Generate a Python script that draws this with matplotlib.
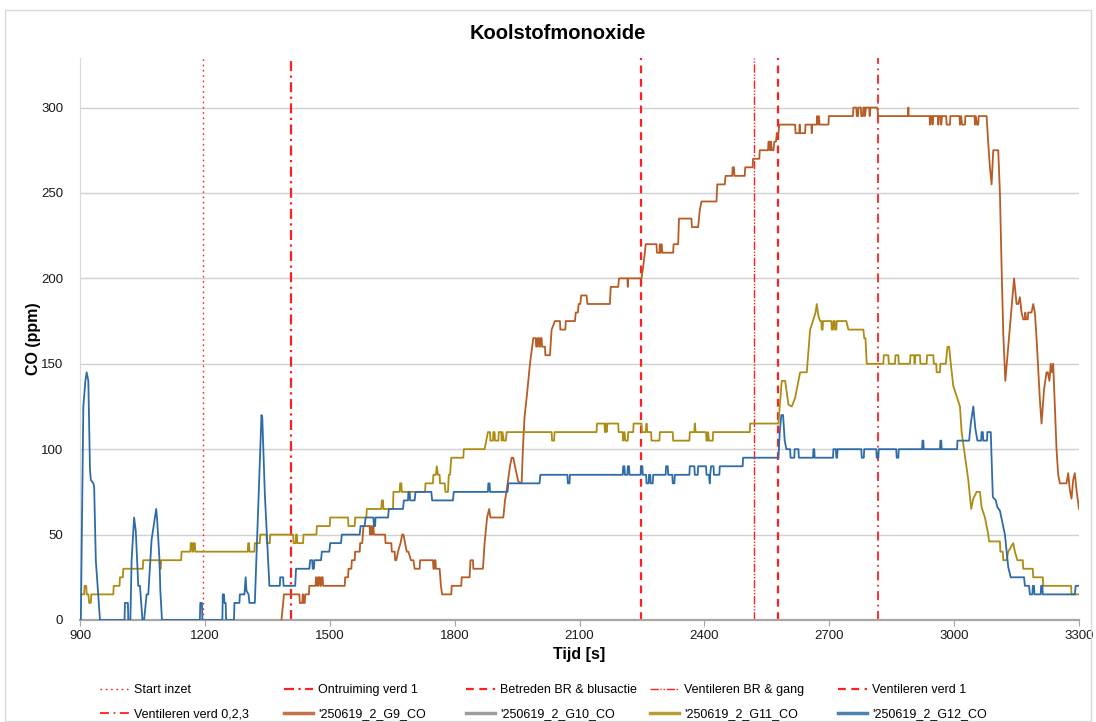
import matplotlib
matplotlib.use("Agg")
import matplotlib.pyplot as plt
from matplotlib.patches import Rectangle
from matplotlib.lines import Line2D

plt.rcParams['font.family'] = ['Liberation Sans', 'DejaVu Sans']

# ---------------- data ----------------
title = "Koolstofmonoxide"
x_label = "Tijd [s]"
y_label = "CO (ppm)"
x_ticks = [900, 1200, 1500, 1800, 2100, 2400, 2700, 3000, 3300]
y_ticks = [0, 50, 100, 150, 200, 250, 300]

event_labels = ["Start inzet", "Ontruiming verd 1", "Betreden BR & blusactie",
                "Ventileren BR & gang", "Ventileren verd 1", "Ventileren verd 0,2,3"]
event_times = [1195, 1407, 2248, 2519, 2577, 2817]

series_labels = ["'250619_2_G9_CO", "'250619_2_G10_CO", "'250619_2_G11_CO", "'250619_2_G12_CO"]

g9 = [(1384, 0), (1390, 15), (1427, 15), (1428, 10), (1434, 10), (1435, 15), (1436, 15), (1437, 10),
      (1440, 10), (1441, 15), (1450, 15), (1451, 20), (1466, 20), (1467, 25), (1469, 25), (1470, 20),
      (1472, 20), (1473, 25), (1476, 25), (1477, 20), (1479, 20), (1480, 25), (1483, 25), (1484, 20),
      (1536, 20), (1537, 25), (1544, 25), (1545, 30), (1552, 30), (1553, 35), (1560, 35), (1561, 40),
      (1572, 40), (1573, 45), (1578, 45), (1581, 55), (1596, 55), (1597, 50), (1599, 55), (1601, 50),
      (1603, 55), (1605, 55), (1606, 50), (1633, 50), (1634, 45), (1648, 45), (1649, 40), (1656, 40),
      (1657, 35), (1660, 35), (1664, 40), (1670, 45), (1674, 50), (1677, 50), (1681, 45), (1685, 40),
      (1689, 40), (1695, 35), (1701, 35), (1704, 30), (1716, 30), (1717, 35), (1748, 35), (1749, 30),
      (1751, 30), (1752, 35), (1754, 35), (1755, 30), (1764, 30), (1767, 20), (1770, 15), (1792, 15),
      (1793, 20), (1816, 20), (1817, 25), (1836, 25), (1838, 35), (1844, 35), (1845, 30), (1868, 30),
      (1872, 45), (1878, 60), (1883, 65), (1886, 60), (1917, 60), (1921, 70), (1925, 76), (1933, 90),
      (1937, 95), (1941, 95), (1945, 90), (1953, 81), (1961, 80), (1964, 100), (1968, 119), (1973, 130),
      (1981, 150), (1989, 165), (1995, 165), (1996, 160), (1998, 160), (1999, 165), (2002, 165),
      (2003, 160), (2005, 160), (2006, 165), (2009, 165), (2010, 160), (2017, 160), (2018, 155),
      (2029, 155), (2033, 170), (2041, 175), (2053, 175), (2054, 170), (2066, 170), (2067, 175),
      (2089, 175), (2091, 180), (2096, 180), (2098, 185), (2102, 185), (2104, 190), (2117, 190),
      (2119, 185), (2173, 185), (2175, 195), (2193, 195), (2195, 200), (2215, 200), (2216, 195),
      (2217, 200), (2249, 200), (2252, 205), (2257, 215), (2259, 220), (2285, 220), (2286, 215),
      (2292, 215), (2293, 220), (2295, 215), (2297, 220), (2299, 215), (2325, 215), (2326, 220),
      (2337, 220), (2339, 235), (2369, 235), (2370, 230), (2385, 230), (2389, 240), (2393, 245),
      (2429, 245), (2431, 255), (2449, 255), (2451, 260), (2467, 260), (2468, 265), (2471, 265),
      (2472, 260), (2497, 260), (2498, 265), (2516, 265), (2517, 270), (2532, 270), (2533, 275),
      (2553, 275), (2554, 280), (2557, 280), (2558, 275), (2560, 280), (2562, 275), (2566, 275),
      (2568, 280), (2572, 280), (2574, 285), (2578, 285), (2580, 290), (2618, 290), (2619, 285),
      (2628, 285), (2629, 290), (2630, 285), (2642, 285), (2643, 290), (2657, 290), (2658, 285),
      (2659, 290), (2670, 290), (2671, 295), (2673, 290), (2675, 295), (2677, 290), (2698, 290),
      (2699, 295), (2757, 295), (2758, 300), (2765, 300), (2766, 295), (2769, 295), (2770, 300),
      (2776, 300), (2777, 295), (2781, 295), (2782, 300), (2785, 300), (2786, 295), (2788, 300),
      (2796, 300), (2797, 295), (2799, 300), (2815, 300), (2818, 295), (2889, 295), (2890, 300),
      (2891, 295), (2941, 295), (2942, 290), (2944, 295), (2947, 295), (2948, 290), (2950, 295),
      (2961, 295), (2962, 290), (2964, 295), (2968, 295), (2969, 290), (2971, 295), (2981, 295),
      (2982, 290), (2990, 290), (2991, 295), (3013, 295), (3014, 290), (3017, 295), (3019, 290),
      (3026, 290), (3027, 295), (3049, 295), (3050, 290), (3052, 295), (3055, 290), (3058, 290),
      (3059, 295), (3078, 295), (3082, 279), (3086, 265), (3090, 255), (3094, 275), (3106, 275),
      (3110, 250), (3114, 207), (3118, 168), (3123, 140), (3130, 160), (3137, 180), (3144, 200),
      (3150, 185), (3154, 185), (3158, 189), (3162, 180), (3166, 176), (3170, 176), (3171, 180),
      (3173, 176), (3177, 176), (3178, 180), (3186, 180), (3190, 185), (3194, 180), (3198, 165),
      (3206, 129), (3210, 115), (3216, 135), (3222, 145), (3225, 145), (3229, 140), (3232, 150),
      (3235, 145), (3238, 150), (3246, 100), (3250, 85), (3254, 80), (3270, 80), (3274, 86),
      (3278, 76), (3282, 71), (3286, 82), (3290, 86), (3294, 76), (3300, 65)]

g10 = []

g11 = [(900, 15), (910, 15), (911, 20), (915, 20), (916, 15), (920, 15), (922, 10), (926, 10),
       (927, 15), (980, 15), (981, 20), (995, 20), (996, 25), (1003, 25), (1004, 30), (1051, 30),
       (1052, 35), (1091, 35), (1092, 30), (1094, 30), (1095, 35), (1143, 35), (1144, 40), (1165, 40),
       (1166, 45), (1169, 45), (1170, 40), (1172, 40), (1173, 45), (1176, 45), (1177, 40), (1303, 40),
       (1304, 45), (1306, 45), (1307, 40), (1319, 40), (1320, 45), (1332, 45), (1333, 50), (1348, 50),
       (1349, 45), (1356, 45), (1357, 50), (1412, 50), (1413, 45), (1418, 45), (1419, 50), (1421, 50),
       (1422, 45), (1436, 45), (1437, 50), (1468, 50), (1469, 55), (1500, 55), (1501, 60), (1544, 60),
       (1545, 55), (1560, 55), (1561, 60), (1588, 60), (1589, 65), (1624, 65), (1625, 70), (1628, 70),
       (1629, 65), (1652, 65), (1653, 75), (1668, 75), (1669, 80), (1672, 80), (1673, 75), (1729, 75),
       (1730, 80), (1748, 80), (1749, 85), (1755, 85), (1757, 90), (1760, 85), (1764, 85), (1765, 80),
       (1776, 80), (1778, 75), (1784, 75), (1786, 85), (1789, 85), (1792, 95), (1821, 95), (1822, 100),
       (1872, 100), (1876, 105), (1880, 110), (1885, 110), (1886, 105), (1892, 105), (1893, 110),
       (1896, 110), (1897, 105), (1905, 105), (1906, 110), (1912, 110), (1913, 105), (1915, 110),
       (1918, 105), (1923, 105), (1925, 110), (2033, 110), (2034, 105), (2039, 105), (2040, 110),
       (2141, 110), (2142, 115), (2160, 115), (2161, 110), (2163, 115), (2165, 110), (2167, 115),
       (2193, 115), (2194, 110), (2204, 110), (2205, 105), (2208, 110), (2210, 105), (2216, 105),
       (2217, 110), (2229, 110), (2230, 115), (2249, 115), (2250, 110), (2259, 110), (2261, 115),
       (2263, 110), (2272, 110), (2273, 105), (2292, 105), (2293, 110), (2324, 110), (2325, 105),
       (2364, 105), (2365, 110), (2376, 110), (2377, 115), (2379, 110), (2404, 110), (2405, 105),
       (2408, 105), (2409, 110), (2411, 105), (2420, 105), (2421, 110), (2509, 110), (2510, 115),
       (2578, 115), (2581, 125), (2586, 140), (2594, 140), (2602, 126), (2610, 125), (2618, 130),
       (2630, 145), (2646, 145), (2654, 170), (2662, 176), (2667, 180), (2670, 185), (2674, 178),
       (2678, 175), (2681, 175), (2682, 170), (2684, 170), (2685, 175), (2705, 175), (2706, 170),
       (2709, 170), (2710, 175), (2713, 175), (2714, 170), (2717, 170), (2718, 175), (2741, 175),
       (2746, 170), (2782, 170), (2784, 165), (2787, 165), (2790, 150), (2830, 150), (2831, 155),
       (2842, 155), (2843, 150), (2858, 150), (2859, 155), (2866, 155), (2867, 150), (2894, 150),
       (2895, 155), (2904, 155), (2905, 150), (2907, 155), (2918, 155), (2919, 150), (2934, 150),
       (2935, 155), (2950, 155), (2951, 150), (2957, 150), (2958, 145), (2966, 145), (2967, 150),
       (2980, 150), (2984, 160), (2988, 160), (2992, 150), (2998, 137), (3006, 131), (3014, 125),
       (3018, 110), (3026, 96), (3034, 82), (3041, 65), (3046, 71), (3054, 75), (3062, 75),
       (3066, 66), (3074, 60), (3082, 50), (3084, 46), (3110, 46), (3111, 40), (3117, 40),
       (3118, 35), (3126, 35), (3130, 40), (3142, 45), (3146, 40), (3152, 35), (3165, 35),
       (3166, 30), (3189, 30), (3190, 25), (3213, 25), (3214, 20), (3281, 20), (3282, 15), (3300, 15)]

g12 = [(900, 0), (902, 0), (908, 125), (913, 140), (916, 145), (920, 140), (924, 88), (926, 82),
       (932, 80), (934, 78), (938, 35), (948, 0), (1007, 0), (1008, 10), (1015, 10), (1016, 0),
       (1021, 0), (1024, 35), (1030, 60), (1034, 52), (1040, 20), (1044, 20), (1050, 0), (1054, 0),
       (1060, 15), (1064, 15), (1072, 47), (1083, 65), (1085, 60), (1091, 35), (1093, 17), (1097, 0),
       (1188, 0), (1189, 10), (1193, 10), (1194, 0), (1242, 0), (1243, 15), (1246, 15), (1247, 10),
       (1250, 10), (1251, 0), (1270, 0), (1271, 10), (1283, 10), (1284, 15), (1295, 15), (1298, 25),
       (1300, 17), (1305, 15), (1307, 10), (1320, 10), (1336, 120), (1338, 118), (1344, 74),
       (1355, 20), (1380, 20), (1381, 25), (1388, 25), (1389, 20), (1417, 20), (1419, 30), (1451, 30),
       (1453, 35), (1458, 35), (1459, 30), (1462, 30), (1463, 35), (1479, 35), (1481, 40), (1499, 40),
       (1501, 45), (1527, 45), (1529, 50), (1572, 50), (1574, 55), (1584, 55), (1586, 60), (1605, 60),
       (1606, 55), (1609, 55), (1610, 60), (1640, 60), (1642, 65), (1676, 65), (1678, 70), (1688, 70),
       (1689, 75), (1692, 75), (1693, 70), (1704, 70), (1706, 75), (1744, 75), (1746, 70), (1796, 70),
       (1798, 75), (1880, 75), (1881, 80), (1884, 80), (1885, 75), (1927, 75), (1929, 80), (2004, 80),
       (2006, 85), (2071, 85), (2072, 80), (2076, 80), (2077, 85), (2204, 85), (2205, 90), (2208, 90),
       (2209, 85), (2215, 85), (2216, 90), (2219, 90), (2220, 85), (2247, 85), (2248, 90), (2251, 90),
       (2252, 85), (2260, 85), (2261, 80), (2266, 80), (2267, 85), (2270, 85), (2271, 80), (2276, 80),
       (2277, 85), (2307, 85), (2308, 90), (2312, 90), (2313, 85), (2323, 85), (2324, 80), (2328, 80),
       (2329, 85), (2364, 85), (2365, 90), (2376, 90), (2377, 85), (2384, 85), (2385, 90), (2404, 90),
       (2405, 85), (2411, 85), (2413, 80), (2414, 85), (2416, 90), (2422, 90), (2423, 85), (2436, 85),
       (2437, 90), (2492, 90), (2493, 95), (2578, 95), (2581, 110), (2585, 120), (2589, 120),
       (2593, 105), (2597, 100), (2606, 100), (2607, 95), (2616, 95), (2617, 100), (2626, 100),
       (2627, 95), (2661, 95), (2662, 100), (2664, 100), (2665, 95), (2709, 95), (2710, 100),
       (2716, 100), (2717, 95), (2719, 95), (2720, 100), (2777, 100), (2778, 95), (2783, 95),
       (2784, 100), (2813, 100), (2814, 95), (2818, 95), (2819, 100), (2861, 100), (2862, 95),
       (2866, 95), (2867, 100), (2923, 100), (2924, 105), (2926, 105), (2927, 100), (2966, 100),
       (2967, 105), (2969, 105), (2970, 100), (3007, 100), (3008, 105), (3036, 105), (3040, 115),
       (3046, 125), (3051, 112), (3056, 105), (3065, 105), (3066, 110), (3069, 110), (3070, 105),
       (3079, 105), (3080, 110), (3088, 110), (3093, 72), (3100, 70), (3104, 66), (3110, 64),
       (3122, 50), (3130, 31), (3136, 25), (3168, 25), (3170, 20), (3180, 20), (3182, 15),
       (3188, 15), (3189, 20), (3192, 20), (3193, 15), (3208, 15), (3209, 20), (3212, 20),
       (3213, 15), (3290, 15), (3292, 20), (3300, 20)]

# ---------------- styles ----------------
RED = '#FF1F1F'
event_styles = [
    dict(lw=1.0, ls=(0, (1.2, 2.6))),
    dict(lw=1.6, ls=(0, (4.5, 2.0, 1.0, 2.0))),
    dict(lw=1.6, ls=(0, (3.5, 2.5))),
    dict(lw=1.0, ls=(0, (6, 1.2, 1, 1.2, 1, 1.2))),
    dict(lw=1.6, ls=(0, (3.5, 2.5))),
    dict(lw=1.3, ls=(0, (5, 2.5, 1, 2.5))),
]
series_colors = ['#B85C26', '#8C8C8C', '#AD8C14', '#2E6CA8']

W, H = 1096, 722
fig = plt.figure(figsize=(W / 100, H / 100), dpi=100)
ax = fig.add_axes([80 / W, 1 - 620 / H, (1079 - 80) / W, (620 - 58) / H])

ax.set_xlim(900, 3300)
ax.set_ylim(0, 329)
ax.set_xticks(x_ticks)
ax.set_yticks(y_ticks)
ax.yaxis.grid(True, color='#D0D0D0', lw=1.0)
ax.set_axisbelow(True)

for s in ['top', 'right']:
    ax.spines[s].set_visible(False)
ax.spines['left'].set_color('#D9D9D9')
ax.spines['bottom'].set_color('#A6A6A6')
ax.spines['bottom'].set_linewidth(1.6)
ax.tick_params(axis='y', length=0, pad=12, labelsize=9.5, labelcolor='#1A1A1A')
ax.tick_params(axis='x', length=4, width=0.8, color='#A6A6A6', pad=3, labelsize=9.5,
               labelcolor='#1A1A1A')

handles = {}
for lab, t, st in zip(event_labels, event_times, event_styles):
    ax.axvline(t, color=RED, lw=st['lw'], linestyle=st['ls'], zorder=2)
    handles[lab] = Line2D([], [], color=RED, lw=st['lw'], linestyle=st['ls'])

for lab, data, col in zip(series_labels, [g9, g10, g11, g12], series_colors):
    xs = [p[0] for p in data]
    ys = [p[1] for p in data]
    ax.plot(xs, ys, color=col, lw=1.3, zorder=3)
    handles[lab] = Line2D([], [], color=col, lw=2.5, alpha=0.85)

ax.set_title(title, fontsize=14.5, fontweight='bold', pad=14, x=0.478)
ax.set_xlabel(x_label, fontsize=11.5, fontweight='bold', labelpad=4)
ax.set_ylabel(y_label, fontsize=11.5, fontweight='bold', labelpad=0)

# legend: five equally spaced columns, two rows (row-major order of entries)
row_major = event_labels + series_labels
ncol = 5
col_x = [100, 284, 466, 650, 838]
for c in range(ncol):
    labs = [row_major[c], row_major[ncol + c]]
    fig.legend([handles[k] for k in labs], labs, loc='upper left',
               bbox_to_anchor=(col_x[c] / W, 1 - 684 / H), frameon=False, fontsize=9,
               handlelength=2.3, handletextpad=0.45, labelspacing=1.0,
               borderpad=0, borderaxespad=0)

fig.patches.append(Rectangle((5 / W, 1 / H), (1091 - 5) / W, (711 - 1) / H + 0.001,
                             transform=fig.transFigure, fill=False, edgecolor='#D9D9D9', lw=1.0))

fig.savefig('out.png', dpi=100)
